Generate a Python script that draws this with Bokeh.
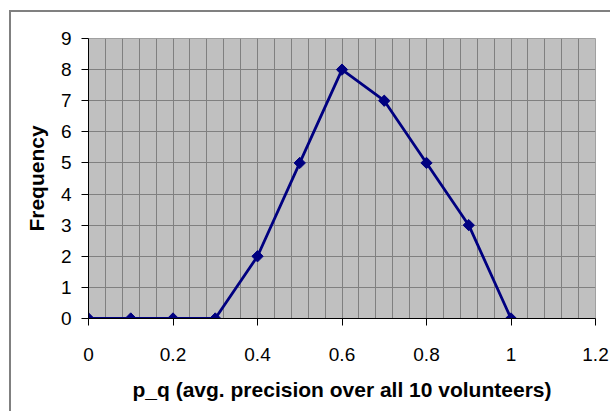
import math
from bokeh.plotting import figure
from bokeh.models import Range1d, FixedTicker
from bokeh.embed import file_html
from bokeh.resources import INLINE

# Frequency polygon of average precision values
p_q = [0.0, 0.1, 0.2, 0.3, 0.4, 0.5, 0.6, 0.7, 0.8, 0.9, 1.0]
frequency = [0, 0, 0, 0, 2, 5, 8, 7, 5, 3, 0]

x_ticks = [0, 0.2, 0.4, 0.6, 0.8, 1.0, 1.2]
x_tick_labels = ["0", "0.2", "0.4", "0.6", "0.8", "1", "1.2"]
x_minor = [round(i * 0.04, 2) for i in range(31)]
y_ticks = list(range(10))

FONT = "Liberation Sans"
NAVY = "#000080"

# chart area sits inside a grey border starting at (9, 10)
p = figure(
    width=601, height=401,
    x_range=Range1d(0, 1.2), y_range=Range1d(0, 9),
    output_backend="svg", toolbar_location=None,
    min_border_left=77, min_border_right=17,
    min_border_top=26, min_border_bottom=95,
    background_fill_color="#C0C0C0", border_fill_color="white",
)
p.margin = (10, 0, 0, 9)
p.styles = {"border-left": "2px solid #808080", "border-top": "2px solid #808080"}

p.line(p_q, frequency, line_color=NAVY, line_width=2.8)
p.scatter(p_q, frequency, marker="square", size=8, angle=math.pi / 4,
          fill_color=NAVY, line_color=NAVY)

# plot-area outline
p.outline_line_color = "#A0A0A0"
p.outline_line_width = 1

# axes
p.xaxis.ticker = FixedTicker(ticks=x_ticks, minor_ticks=x_minor)
p.yaxis.ticker = FixedTicker(ticks=y_ticks)
p.xaxis.major_label_overrides = dict(zip(x_ticks, x_tick_labels))
for ax in (p.xaxis[0], p.yaxis[0]):
    ax.axis_line_color = "black"
    ax.axis_line_width = 1
    ax.major_tick_line_color = "black"
    ax.major_tick_in = 0
    ax.major_tick_out = 7
    ax.minor_tick_in = 0
    ax.minor_tick_out = 0
    ax.major_label_text_font = FONT
    ax.major_label_text_font_size = "19px"
    ax.major_label_text_color = "black"
    ax.axis_label_text_font = FONT
    ax.axis_label_text_font_size = "21px"
    ax.axis_label_text_font_style = "bold"
    ax.axis_label_text_color = "black"

p.xaxis.major_label_standoff = 22
p.yaxis.major_label_standoff = 10
p.xaxis.axis_label = "p_q (avg. precision over all 10 volunteers)"
p.yaxis.axis_label = "Frequency"
p.xaxis.axis_label_standoff = 14
p.yaxis.axis_label_standoff = 10

# grid
p.xgrid.grid_line_color = "#808080"
p.xgrid.minor_grid_line_color = "#808080"
p.ygrid.grid_line_color = "#808080"

open("out.html", "w").write(file_html(p, INLINE))
